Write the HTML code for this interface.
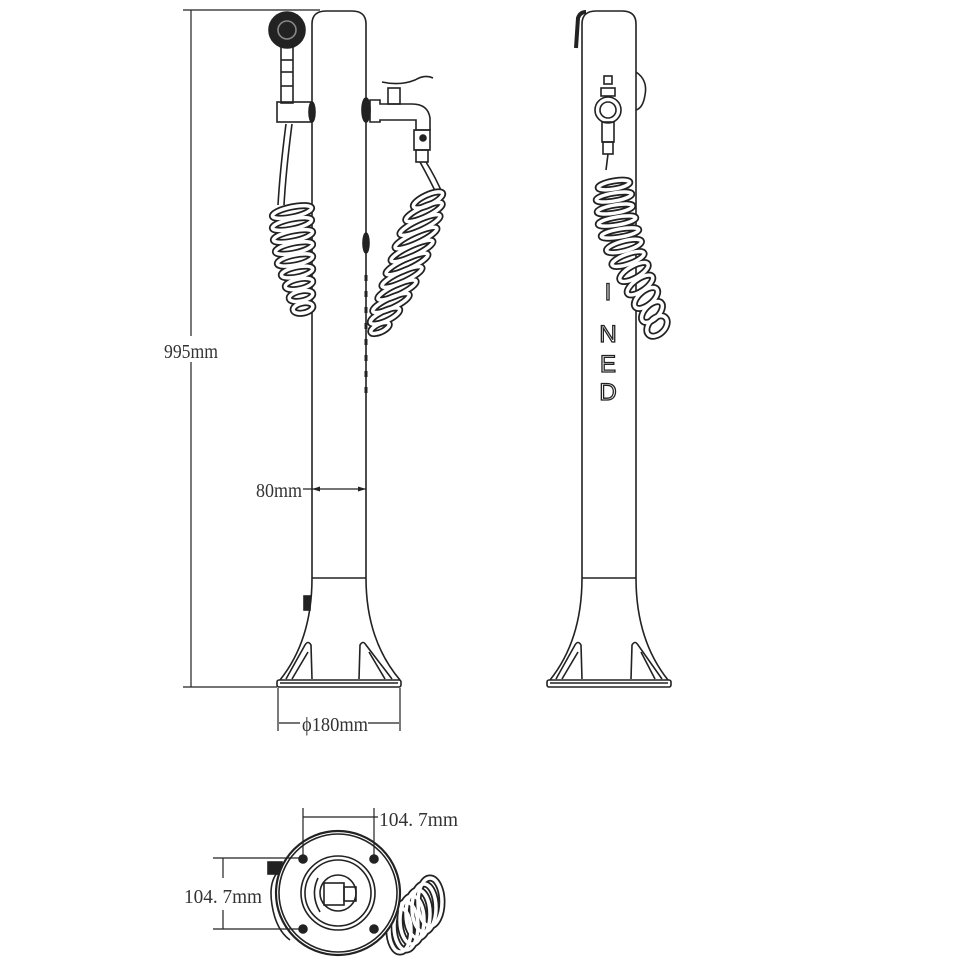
<!DOCTYPE html>
<html><head><meta charset="utf-8"><style>
html,body{margin:0;padding:0;background:#fff}
svg{display:block}
text{font-family:"Liberation Serif",serif;fill:#333}
text.s{font-family:"Liberation Sans",sans-serif;fill:#fff}
</style></head><body>
<svg width="970" height="971" viewBox="0 0 970 971" xmlns="http://www.w3.org/2000/svg">
<g fill="none" stroke="#222" stroke-width="1.6">
<path d="M312,578 L312,24 Q312,11 326,11 L352,11 Q366,11 366,24 L366,578"/>
<line x1="312" y1="578" x2="366" y2="578"/>
<path d="M312,578 Q312,640 280,680"/>
<path d="M366,578 Q366,640 400,680"/>
<rect x="277" y="680" width="124" height="7" rx="2"/>
<line x1="280" y1="683" x2="398" y2="683"/>
<path d="M286,679 L305,645 Q308,640 311,645 L312,679"/>
<path d="M292,679 L308,652"/>
<path d="M359,679 L360,645 Q363,640 366,645 L392,679"/>
<path d="M369,652 L385,679"/>
<rect x="304" y="596" width="6" height="14" fill="#222"/>
<circle cx="287" cy="30" r="18" fill="#222"/>
<circle cx="287" cy="30" r="9" stroke="#888"/>
<rect x="281" y="47" width="12" height="56"/>
<line x1="281" y1="60" x2="293" y2="60"/><line x1="281" y1="72" x2="293" y2="72"/><line x1="281" y1="86" x2="293" y2="86"/>
<rect x="277" y="102" width="34" height="20"/>
<ellipse cx="312" cy="112" rx="3" ry="10" fill="#222"/>
<path d="M286,124 Q280,170 278,205"/>
<path d="M292,124 Q286,170 284,205"/>
<ellipse cx="366" cy="110" rx="4" ry="12" fill="#222"/>
<path d="M370,100 L380,100 L380,104 L412,104 Q428,104 430,118 L430,130 L416,130 L416,120 L380,120 L380,122 L370,122 Z"/>
<rect x="388" y="88" width="12" height="16"/>
<path d="M382,82 Q400,86 415,80 Q425,74 433,78"/>
<rect x="414" y="130" width="16" height="20"/>
<circle cx="423" cy="138" r="3" fill="#222"/>
<rect x="416" y="150" width="12" height="12"/>
<path d="M420,162 Q430,180 437,195"/><path d="M426,162 Q436,178 443,195"/>
<ellipse cx="366" cy="243" rx="3" ry="10" fill="#222"/>
<line x1="366" y1="275" x2="366" y2="400" stroke-width="3" stroke-dasharray="6 10"/>
</g>
<g fill="none" stroke="#222" stroke-width="7">
<g id="lc">
<ellipse cx="292" cy="212" rx="20" ry="5" transform="rotate(-12 292 212)"/>
<ellipse cx="292" cy="224" rx="20" ry="5" transform="rotate(-12 292 224)"/>
<ellipse cx="293" cy="236" rx="20" ry="5" transform="rotate(-12 293 236)"/>
<ellipse cx="294" cy="248" rx="19" ry="5" transform="rotate(-12 294 248)"/>
<ellipse cx="295" cy="260" rx="18" ry="5" transform="rotate(-12 295 260)"/>
<ellipse cx="297" cy="272" rx="16" ry="5" transform="rotate(-12 297 272)"/>
<ellipse cx="299" cy="284" rx="14" ry="5" transform="rotate(-12 299 284)"/>
<ellipse cx="301" cy="296" rx="12" ry="5" transform="rotate(-12 301 296)"/>
<ellipse cx="303" cy="308" rx="10" ry="5" transform="rotate(-12 303 308)"/>
</g>
</g>
<use href="#lc" stroke="#fff" stroke-width="3.5" fill="none"/>
<g fill="none" stroke="#222" stroke-width="7">
<g id="rc">
<ellipse cx="428" cy="200" rx="16" ry="5" transform="rotate(-25 428 200)"/>
<ellipse cx="424" cy="212" rx="20" ry="5" transform="rotate(-25 424 212)"/>
<ellipse cx="420" cy="225" rx="22" ry="5" transform="rotate(-25 420 225)"/>
<ellipse cx="416" cy="238" rx="23" ry="5" transform="rotate(-25 416 238)"/>
<ellipse cx="412" cy="251" rx="23" ry="5" transform="rotate(-25 412 251)"/>
<ellipse cx="407" cy="264" rx="23" ry="5" transform="rotate(-25 407 264)"/>
<ellipse cx="402" cy="277" rx="22" ry="5" transform="rotate(-25 402 277)"/>
<ellipse cx="397" cy="290" rx="21" ry="5" transform="rotate(-25 397 290)"/>
<ellipse cx="391" cy="303" rx="20" ry="5" transform="rotate(-25 391 303)"/>
<ellipse cx="385" cy="316" rx="16" ry="5" transform="rotate(-25 385 316)"/>
<ellipse cx="380" cy="328" rx="10" ry="4" transform="rotate(-25 380 328)"/>
</g>
</g>
<use href="#rc" stroke="#fff" stroke-width="3.5" fill="none"/>

<g stroke="#222" stroke-width="1.2" fill="none">
<line x1="183" y1="10" x2="320" y2="10"/>
<line x1="183" y1="687" x2="277" y2="687"/>
<line x1="191" y1="10" x2="191" y2="687"/>
<line x1="303" y1="489" x2="366" y2="489"/>
<line x1="278" y1="688" x2="278" y2="731"/>
<line x1="400" y1="688" x2="400" y2="731"/>
<line x1="279" y1="723" x2="300" y2="723"/>
<line x1="368" y1="723" x2="399" y2="723"/>
</g>
<g fill="#222"><path d="M312,489 l8,-2.5 v5z"/><path d="M366,489 l-8,-2.5 v5z"/></g>
<rect x="160" y="336" width="60" height="26" fill="#fff"/>
<text x="164" y="358" font-size="20" textLength="54" lengthAdjust="spacingAndGlyphs">995mm</text>
<text x="256" y="497" font-size="20" textLength="46" lengthAdjust="spacingAndGlyphs">80mm</text>
<text x="302" y="731" font-size="20" textLength="66" lengthAdjust="spacingAndGlyphs">ϕ180mm</text>

<g fill="none" stroke="#222" stroke-width="1.6">
<path d="M582,578 L582,24 Q582,11 596,11 L622,11 Q636,11 636,24 L636,578"/>
<line x1="582" y1="578" x2="636" y2="578"/>
<path d="M582,578 Q582,640 550,680"/>
<path d="M636,578 Q636,640 668,680"/>
<rect x="547" y="680" width="124" height="7" rx="2"/>
<line x1="550" y1="683" x2="668" y2="683"/>
<path d="M556,679 L575,645 Q578,640 581,645 L582,679"/>
<path d="M562,679 L578,652"/>
<path d="M631,679 L632,645 Q635,640 638,645 L662,679"/>
<path d="M641,652 L655,679"/>
<path d="M576,48 L578,18 Q580,12 586,12" stroke-width="4"/>
<path d="M636,72 Q648,80 645,95 Q643,108 636,110"/>
<rect x="604" y="76" width="8" height="8"/>
<rect x="601" y="88" width="14" height="8"/>
<circle cx="608" cy="110" r="13"/>
<circle cx="608" cy="110" r="8"/>
<rect x="602" y="122" width="12" height="20"/>
<rect x="603" y="142" width="10" height="12"/>
<line x1="608" y1="154" x2="606" y2="170"/>
</g>
<g fill="none" stroke="#222" stroke-width="7">
<g id="rc2">
<ellipse cx="614" cy="185" rx="16" ry="4" transform="rotate(-10 614 185)"/>
<ellipse cx="614" cy="197" rx="18" ry="4" transform="rotate(-10 614 197)"/>
<ellipse cx="615" cy="209" rx="18" ry="4" transform="rotate(-10 615 209)"/>
<ellipse cx="617" cy="221" rx="19" ry="4" transform="rotate(-10 617 221)"/>
<ellipse cx="620" cy="233" rx="19" ry="4" transform="rotate(-10 620 233)"/>
<ellipse cx="624" cy="246" rx="18" ry="5" transform="rotate(-15 624 246)"/>
<ellipse cx="628" cy="259" rx="17" ry="5" transform="rotate(-20 628 259)"/>
<ellipse cx="634" cy="272" rx="16" ry="6" transform="rotate(-30 634 272)"/>
<ellipse cx="640" cy="285" rx="15" ry="6" transform="rotate(-35 640 285)"/>
<ellipse cx="646" cy="298" rx="14" ry="7" transform="rotate(-40 646 298)"/>
<ellipse cx="652" cy="312" rx="13" ry="7" transform="rotate(-45 652 312)"/>
<ellipse cx="657" cy="326" rx="12" ry="8" transform="rotate(-45 657 326)"/>
</g>
</g>
<use href="#rc2" stroke="#fff" stroke-width="3.5" fill="none"/>
<g font-size="24" stroke="#222" stroke-width="1.3" text-anchor="middle">
<text class="s" x="608" y="300">I</text>
<text class="s" x="608" y="342">N</text>
<text class="s" x="608" y="372">E</text>
<text class="s" x="608" y="400">D</text>
</g>

<!-- BOTTOM VIEW -->
<g fill="none" stroke="#222" stroke-width="7">
<g id="bc">
<ellipse cx="430" cy="902" rx="12" ry="24"/>
<ellipse cx="424" cy="908" rx="12" ry="24"/>
<ellipse cx="418" cy="914" rx="12" ry="24"/>
<ellipse cx="412" cy="920" rx="12" ry="24"/>
<ellipse cx="406" cy="926" rx="12" ry="24"/>
<ellipse cx="400" cy="930" rx="11" ry="22"/>
</g>
</g>
<use href="#bc" stroke="#fff" stroke-width="3.5" fill="none"/>
<g fill="none" stroke="#222" stroke-width="1.6">
<path d="M280,870 Q268,880 272,905 Q276,930 290,940"/>
<rect x="268" y="862" width="14" height="12" fill="#222"/>
<circle cx="338" cy="893" r="62" fill="#fff" stroke-width="2.2"/>
<circle cx="338" cy="893" r="59"/>
<circle cx="338" cy="893" r="37"/>
<circle cx="338" cy="893" r="33"/>
<circle cx="338" cy="893" r="18"/>
<rect x="324" y="883" width="20" height="22"/>
<rect x="344" y="887" width="12" height="14"/>
<path d="M318,878 Q310,895 320,912"/>
<g fill="#222"><circle cx="303" cy="859" r="4"/><circle cx="374" cy="859" r="4"/><circle cx="303" cy="929" r="4"/><circle cx="374" cy="929" r="4"/></g>
</g>
<g stroke="#222" stroke-width="1.2" fill="none">
<line x1="303" y1="808" x2="303" y2="855"/>
<line x1="374" y1="808" x2="374" y2="855"/>
<line x1="303" y1="817" x2="378" y2="817"/>
<line x1="213" y1="858" x2="300" y2="858"/>
<line x1="213" y1="929" x2="300" y2="929"/>
<line x1="223" y1="858" x2="223" y2="878"/>
<line x1="223" y1="910" x2="223" y2="929"/>
</g>
<text x="379" y="826" font-size="20" textLength="79" lengthAdjust="spacingAndGlyphs">104. 7mm</text>
<text x="184" y="903" font-size="20" textLength="78" lengthAdjust="spacingAndGlyphs">104. 7mm</text>
</svg>
</body></html>
